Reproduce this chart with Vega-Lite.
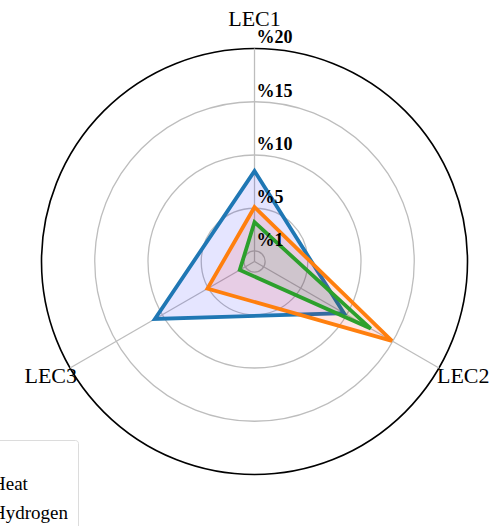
{
  "$schema": "https://vega.github.io/schema/vega-lite/v6.json",
  "width": 504,
  "height": 526,
  "autosize": {"type": "none"},
  "padding": 0,
  "background": "white",
  "config": {"view": {"stroke": null}, "font": "Liberation Serif"},
  "datasets": {
    "axes": [
      {"lec": "LEC1", "angle": 90, "idx": 0},
      {"lec": "LEC2", "angle": -30, "idx": 1},
      {"lec": "LEC3", "angle": 210, "idx": 2}
    ],
    "rings": [
      {"r": 1, "label": "%1"},
      {"r": 5, "label": "%5"},
      {"r": 10, "label": "%10"},
      {"r": 15, "label": "%15"},
      {"r": 20, "label": "%20"}
    ],
    "series": [
      {"carrier": "Heat", "lec": "LEC1", "value": 8.5},
      {"carrier": "Heat", "lec": "LEC2", "value": 9.7},
      {"carrier": "Heat", "lec": "LEC3", "value": 10.8},
      {"carrier": "Hydrogen", "lec": "LEC1", "value": 5.1},
      {"carrier": "Hydrogen", "lec": "LEC2", "value": 14.9},
      {"carrier": "Hydrogen", "lec": "LEC3", "value": 5.1},
      {"carrier": "Electricity", "lec": "LEC1", "value": 3.7},
      {"carrier": "Electricity", "lec": "LEC2", "value": 12.6},
      {"carrier": "Electricity", "lec": "LEC3", "value": 1.6}
    ]
  },
  "layer": [
    {
      "data": {"name": "rings"},
      "transform": [{"filter": "datum.r < 20"}],
      "mark": {"type": "arc", "filled": false, "stroke": "#bdbdbd", "strokeWidth": 1.3, "theta": 0, "theta2": 6.2832},
      "encoding": {
        "x": {"datum": 0, "type": "quantitative", "scale": {"domain": [-23.897, 23.427], "nice": false, "zero": false}, "axis": null},
        "y": {"datum": 0, "type": "quantitative", "scale": {"domain": [-24.836, 24.554], "nice": false, "zero": false}, "axis": null},
        "radius": {"field": "r", "type": "quantitative", "stack": null, "scale": {"type": "linear", "domain": [0, 20], "range": [0, 213], "zero": true}}
      }
    },
    {
      "data": {"name": "rings"},
      "transform": [{"filter": "datum.r == 20"}],
      "mark": {"type": "arc", "filled": false, "stroke": "#000000", "strokeWidth": 1.6, "theta": 0, "theta2": 6.2832},
      "encoding": {
        "x": {"datum": 0, "type": "quantitative", "scale": {"domain": [-23.897, 23.427], "nice": false, "zero": false}, "axis": null},
        "y": {"datum": 0, "type": "quantitative", "scale": {"domain": [-24.836, 24.554], "nice": false, "zero": false}, "axis": null},
        "radius": {"field": "r", "type": "quantitative", "stack": null, "scale": {"type": "linear", "domain": [0, 20], "range": [0, 213], "zero": true}}
      }
    },
    {
      "data": {"name": "axes"},
      "transform": [
        {"calculate": "20*cos(datum.angle*PI/180)", "as": "ex"},
        {"calculate": "20*sin(datum.angle*PI/180)", "as": "ey"}
      ],
      "mark": {"type": "rule", "stroke": "#bdbdbd", "strokeWidth": 1.3},
      "encoding": {
        "x": {"field": "ex", "type": "quantitative", "scale": {"domain": [-23.897, 23.427], "nice": false, "zero": false}, "axis": null},
        "y": {"field": "ey", "type": "quantitative", "scale": {"domain": [-24.836, 24.554], "nice": false, "zero": false}, "axis": null},
        "x2": {"datum": 0},
        "y2": {"datum": 0}
      }
    },
    {
      "data": {"name": "series"},
      "transform": [
        {"lookup": "lec", "from": {"data": {"name": "axes"}, "key": "lec", "fields": ["angle", "idx"]}},
        {"calculate": "datum.value*cos(datum.angle*PI/180)", "as": "px"},
        {"calculate": "datum.value*sin(datum.angle*PI/180)", "as": "py"}
      ],
      "mark": {"type": "line", "interpolate": "linear-closed", "strokeWidth": 3.8, "fillOpacity": 0.1, "strokeJoin": "miter"},
      "encoding": {
        "x": {"field": "px", "type": "quantitative", "scale": {"domain": [-23.897, 23.427], "nice": false, "zero": false}, "axis": null},
        "y": {"field": "py", "type": "quantitative", "scale": {"domain": [-24.836, 24.554], "nice": false, "zero": false}, "axis": null},
        "order": {"field": "idx", "type": "quantitative"},
        "detail": {"field": "carrier"},
        "fill": {"field": "carrier", "type": "nominal", "scale": {"domain": ["Electricity", "Heat", "Hydrogen"], "range": ["#008000", "#0000ff", "#ff0000"]}, "legend": null},
        "stroke": {
          "field": "carrier", "type": "nominal",
          "scale": {"domain": ["Heat", "Hydrogen", "Electricity"], "range": ["#1f77b4", "#ff7f0e", "#2ca02c"]},
          "legend": {
            "orient": "none", "legendX": -41, "legendY": 440,
            "title": " ", "titleFontSize": 19, "titleFont": "Liberation Serif",
            "labelFont": "Liberation Serif", "labelFontSize": 19, "labelColor": "#000000",
            "strokeColor": "#dcdcdc", "cornerRadius": 3, "padding": 6, "fillColor": "white",
            "symbolType": "square", "symbolSize": 250, "rowPadding": 6, "labelOffset": 8,
            "titlePadding": 9
          }
        }
      }
    },
    {
      "data": {"name": "rings"},
      "mark": {"type": "text", "align": "left", "baseline": "alphabetic", "dx": 2, "dy": -5, "fontSize": 18, "fontWeight": "bold", "font": "Liberation Serif", "color": "#000000"},
      "encoding": {
        "x": {"datum": 0, "type": "quantitative", "scale": {"domain": [-23.897, 23.427], "nice": false, "zero": false}, "axis": null},
        "y": {"field": "r", "type": "quantitative", "scale": {"domain": [-24.836, 24.554], "nice": false, "zero": false}, "axis": null},
        "text": {"field": "label"}
      }
    },
    {
      "data": {"name": "axes"},
      "transform": [
        {"filter": "datum.lec == 'LEC1'"},
        {"calculate": "22.15*cos(datum.angle*PI/180)", "as": "tx"},
        {"calculate": "22.15*sin(datum.angle*PI/180)", "as": "ty"}
      ],
      "mark": {"type": "text", "align": "center", "baseline": "alphabetic", "fontSize": 22, "font": "Liberation Serif", "color": "#000000"},
      "encoding": {
        "x": {"field": "tx", "type": "quantitative", "scale": {"domain": [-23.897, 23.427], "nice": false, "zero": false}, "axis": null},
        "y": {"field": "ty", "type": "quantitative", "scale": {"domain": [-24.836, 24.554], "nice": false, "zero": false}, "axis": null},
        "text": {"field": "lec"}
      }
    },
    {
      "data": {"name": "axes"},
      "transform": [
        {"filter": "datum.lec == 'LEC2'"},
        {"calculate": "20*cos(datum.angle*PI/180)", "as": "tx"},
        {"calculate": "20*sin(datum.angle*PI/180)", "as": "ty"}
      ],
      "mark": {"type": "text", "align": "left", "baseline": "alphabetic", "dx": -2, "dy": 15, "fontSize": 22, "font": "Liberation Serif", "color": "#000000"},
      "encoding": {
        "x": {"field": "tx", "type": "quantitative", "scale": {"domain": [-23.897, 23.427], "nice": false, "zero": false}, "axis": null},
        "y": {"field": "ty", "type": "quantitative", "scale": {"domain": [-24.836, 24.554], "nice": false, "zero": false}, "axis": null},
        "text": {"field": "lec"}
      }
    },
    {
      "data": {"name": "axes"},
      "transform": [
        {"filter": "datum.lec == 'LEC3'"},
        {"calculate": "20*cos(datum.angle*PI/180)", "as": "tx"},
        {"calculate": "20*sin(datum.angle*PI/180)", "as": "ty"}
      ],
      "mark": {"type": "text", "align": "right", "baseline": "alphabetic", "dx": 7, "dy": 15, "fontSize": 22, "font": "Liberation Serif", "color": "#000000"},
      "encoding": {
        "x": {"field": "tx", "type": "quantitative", "scale": {"domain": [-23.897, 23.427], "nice": false, "zero": false}, "axis": null},
        "y": {"field": "ty", "type": "quantitative", "scale": {"domain": [-24.836, 24.554], "nice": false, "zero": false}, "axis": null},
        "text": {"field": "lec"}
      }
    }
  ]
}
